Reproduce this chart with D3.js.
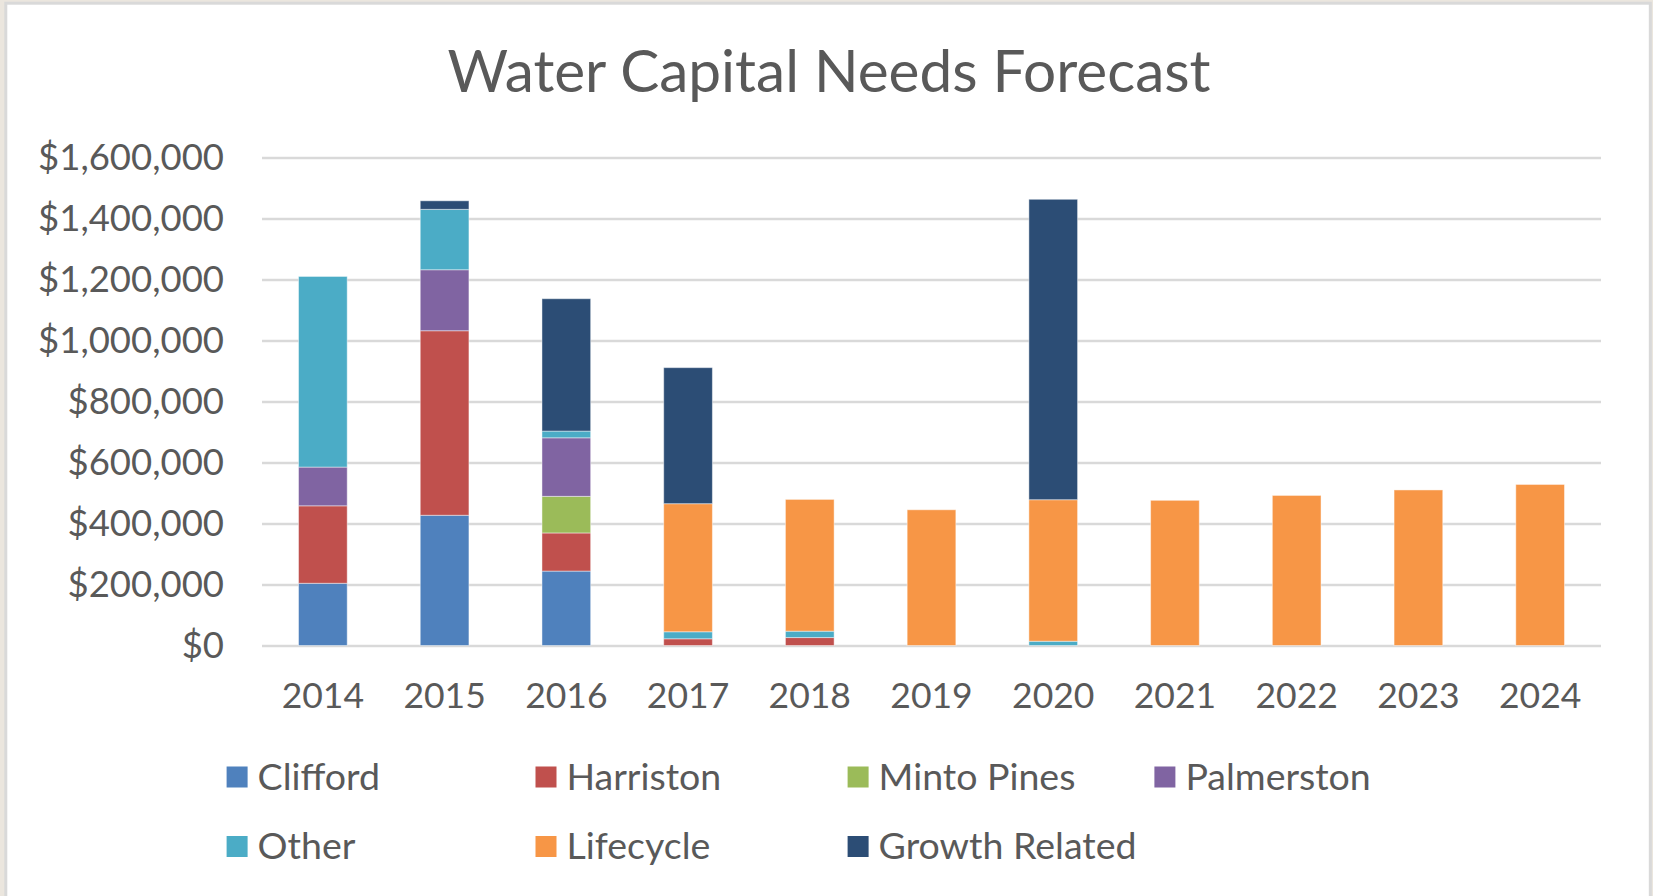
<!DOCTYPE html>
<html>
<head>
<meta charset="utf-8">
<script src="https://cdn.jsdelivr.net/npm/d3@7"></script>
<style>
  body { margin: 0; background: #ebe6de; }
  text { font-family: Lato, "Open Sans", sans-serif; fill: #595959; }
</style>
</head>
<body>
<div id="chart"></div>
<script>
// categories and series
var years = ["2014", "2015", "2016", "2017", "2018", "2019", "2020", "2021", "2022", "2023", "2024"];
var seriesNames = ["Clifford", "Harriston", "Minto Pines", "Palmerston", "Other", "Lifecycle", "Growth Related"];
var seriesColors = ["#4f81bd", "#c0504d", "#9bbb59", "#8064a2", "#4bacc6", "#f79646", "#2c4d75"];

var clifford    = [204000, 427000, 244000, 0, 0, 0, 0, 0, 0, 0, 0];
var harriston   = [254000, 605000, 125000, 22000, 26000, 0, 0, 0, 0, 0, 0];
var mintoPines  = [0, 0, 120000, 0, 0, 0, 0, 0, 0, 0, 0];
var palmerston  = [127000, 200000, 192000, 0, 0, 0, 0, 0, 0, 0, 0];
var other       = [625000, 198000, 22000, 23000, 21000, 0, 14000, 0, 0, 0, 0];
var lifecycle   = [0, 0, 0, 420000, 432000, 445000, 464000, 476000, 492000, 510000, 528000];
var growth      = [0, 28000, 434000, 446000, 0, 0, 985000, 0, 0, 0, 0];

var yTicks = [0, 200000, 400000, 600000, 800000, 1000000, 1200000, 1400000, 1600000];

// build the table for d3.stack
var seriesValues = [clifford, harriston, mintoPines, palmerston, other, lifecycle, growth];
var data = years.map(function(y, i) {
  var row = {year: y};
  seriesNames.forEach(function(s, j) { row[s] = seriesValues[j][i]; });
  return row;
});

var W = 1653, H = 896;
var margin = {top: 157.5, left: 262, right: 52, bottom: 250.5};
var width = W - margin.left - margin.right,
    height = H - margin.top - margin.bottom;

var svg = d3.select("#chart").append("svg")
    .attr("width", W)
    .attr("height", H)
    .style("display", "block");

// chart area box
svg.append("rect")
    .attr("x", 5.8).attr("y", 3.2)
    .attr("width", 1644.5).attr("height", H)
    .attr("fill", "#ffffff")
    .attr("stroke", "#d9d9d9")
    .attr("stroke-width", 3);

svg.append("text")
    .attr("x", 829)
    .attr("y", 92)
    .attr("text-anchor", "middle")
    .style("font-size", "58.5px")
    .text("Water Capital Needs Forecast");

var g = svg.append("g")
    .attr("transform", "translate(" + margin.left + "," + margin.top + ")");

var x = d3.scaleBand().domain(years).range([0, width]).paddingInner(0.6).paddingOuter(0.3);
var y = d3.scaleLinear().domain([0, 1600000]).range([height, 0]);

// y axis with gridlines
var yAxis = g.append("g")
    .call(d3.axisLeft(y).tickValues(yTicks).tickSize(-width).tickPadding(38)
      .tickFormat(function(d) { return "$" + d3.format(",")(d); }));
yAxis.select(".domain").remove();
yAxis.selectAll("line").attr("stroke", "#d9d9d9").attr("stroke-width", 2.5);
yAxis.selectAll("text").style("font-size", "36.5px").attr("fill", "#595959").attr("font-family", null);

var stack = d3.stack().keys(seriesNames);
var layers = stack(data);

g.selectAll(".layer")
    .data(layers)
  .enter().append("g")
    .attr("class", "layer")
    .attr("fill", function(d, i) { return seriesColors[i]; })
  .selectAll("rect")
    .data(function(d) { return d.filter(function(p) { return p[1] - p[0] > 0; }); })
  .enter().append("rect")
    .attr("x", function(d) { return x(d.data.year); })
    .attr("y", function(d) { return y(d[1]); })
    .attr("width", x.bandwidth())
    .attr("height", function(d) { return y(d[0]) - y(d[1]); })
    .attr("stroke", "#ffffff")
    .attr("stroke-opacity", 0.45)
    .attr("stroke-width", 1);

// x axis
var xAxis = g.append("g")
    .attr("transform", "translate(0," + height + ")")
    .call(d3.axisBottom(x).tickSize(0).tickPadding(37));
xAxis.select(".domain").remove();
xAxis.selectAll("text").style("font-size", "35.5px").attr("fill", "#595959").attr("font-family", null);

// legend
var legendX = [226.6, 535.5, 847.6, 1154.4];
var legendY = [777, 846.5];
var legend = svg.selectAll(".legend")
    .data(seriesNames)
  .enter().append("g")
    .attr("class", "legend")
    .attr("transform", function(d, i) {
      return "translate(" + legendX[i % 4] + "," + legendY[Math.floor(i / 4)] + ")";
    });

legend.append("rect")
    .attr("x", 0).attr("y", -10.5)
    .attr("width", 21).attr("height", 21)
    .attr("fill", function(d, i) { return seriesColors[i]; });

legend.append("text")
    .attr("x", 31)
    .attr("y", 12.5)
    .style("font-size", "37.5px")
    .text(function(d) { return d; });
</script>
</body>
</html>
